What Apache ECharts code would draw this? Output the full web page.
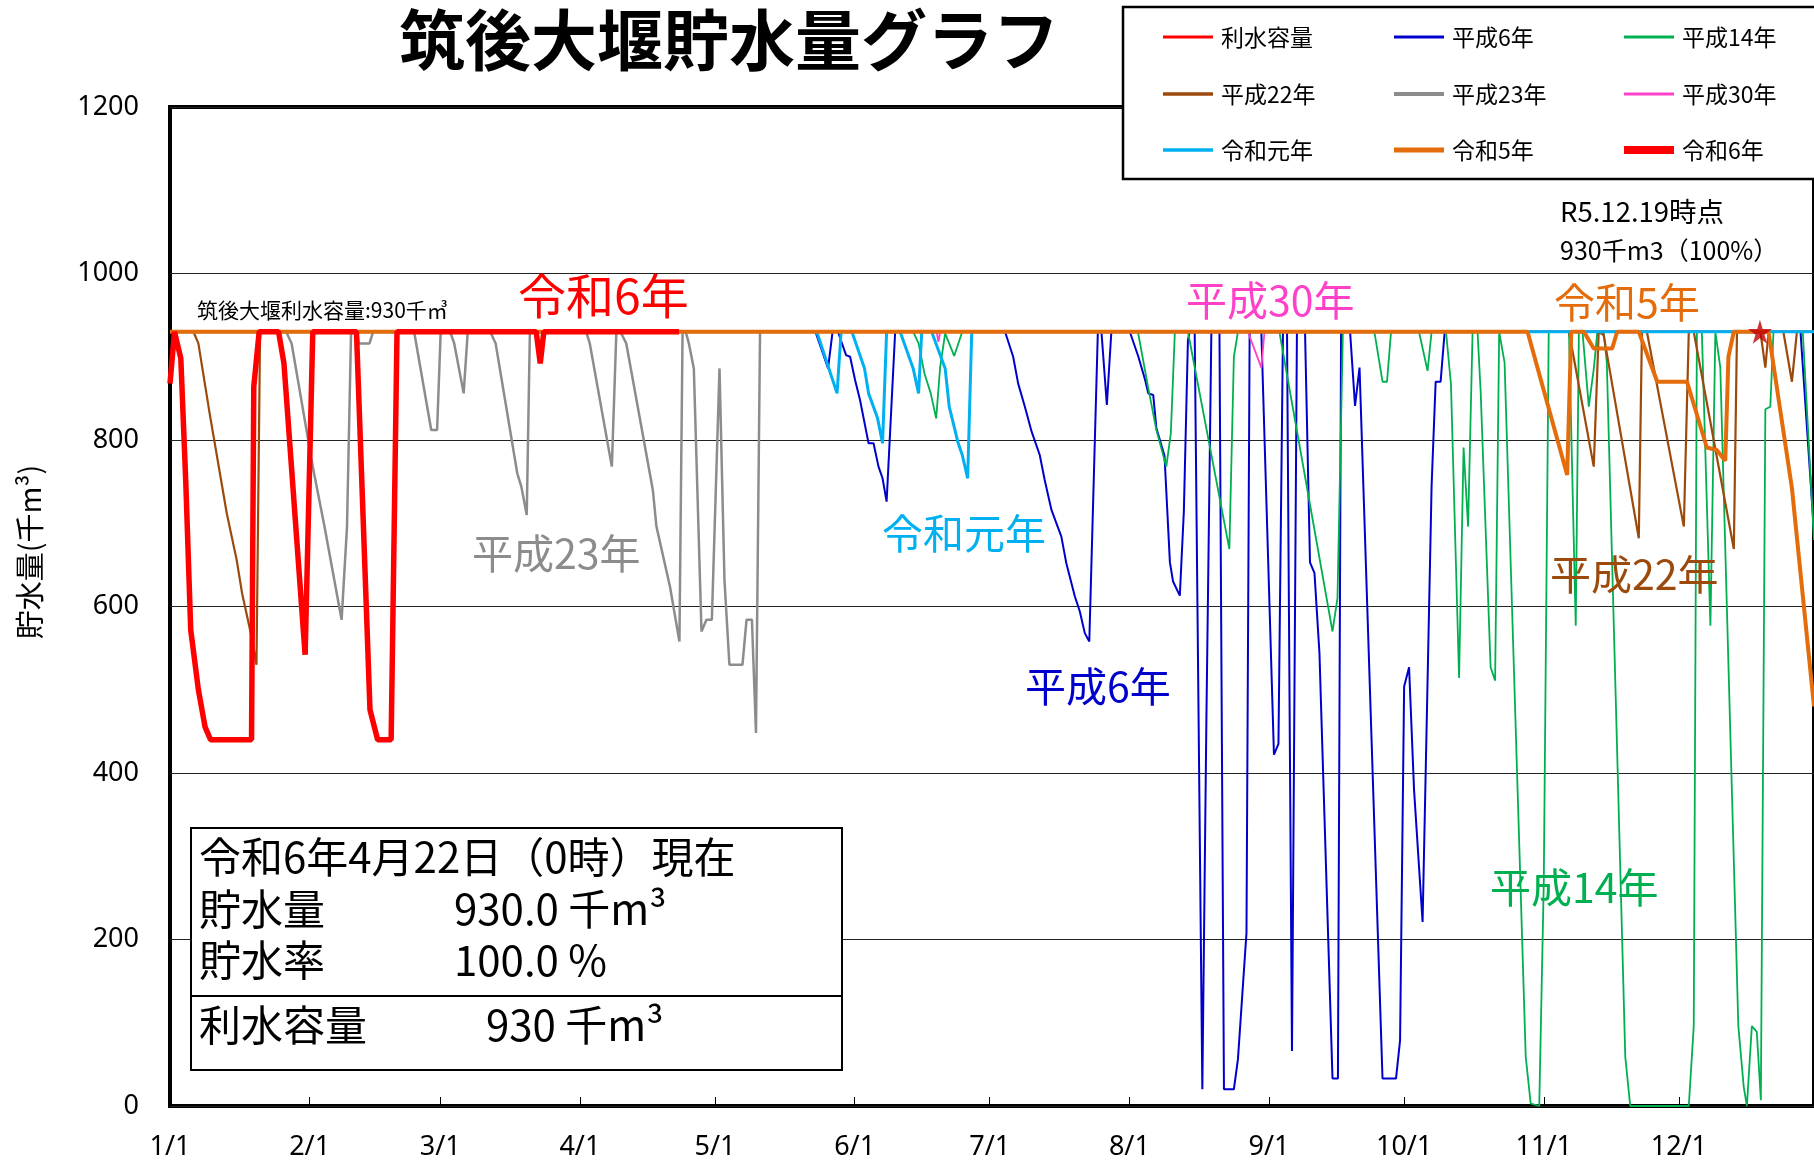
<!DOCTYPE html>
<html><head><meta charset="utf-8">
<script src="https://cdn.jsdelivr.net/npm/echarts@6/dist/echarts.min.js"></script>
<style>html,body{margin:0;padding:0;background:#fff;overflow:hidden}#c{width:1814px;height:1166px}</style>
</head><body><div id="c"></div>
<script>
// ---- axis data ----
const monthStarts = [0,31,60,91,121,152,182,213,244,274,305,335];
const monthLabels = ['1/1','2/1','3/1','4/1','5/1','6/1','7/1','8/1','9/1','10/1','11/1','12/1'];
const yMin = 0, yMax = 1200, yStep = 200;

// ---- series data: [day of year (0 = 1/1), storage 千m3] ----
const capacity = [[0,930],[365,930]];
const h6 = [[0,930],[143.3,930],[146.1,886],[147.1,930],[148.3,930],[150.1,902],[151,900],[152.1,872],[153.2,848],[155.1,796],[156.2,796],[157.3,768],[158.2,754],[159.1,726],[161,930],[185.4,930],[187.2,900],[188.3,868],[189.8,840],[191.3,810],[193.1,782],[194.2,752],[195.7,716],[197.9,684],[199,652],[200.9,612],[202,594],[203.1,568],[204.1,558],[206,930],[206.8,930],[208,842],[209,930],[213.1,930],[215,900],[216.5,872],[217.2,856],[218.3,854],[219,814],[220.8,781],[222,653],[222.7,630],[224.2,613],[225.1,715],[226,920],[226.4,930],[227.5,930],[229.2,20],[230.1,465],[231.2,930],[233,930],[234,20],[236.2,20],[237.1,56],[239,208],[239.7,930],[242.3,930],[245.1,422],[246.1,435],[247.1,930],[248,930],[249.1,66],[250.2,930],[252,930],[253.1,653],[254.1,640],[255.2,544],[258.1,33],[259.3,33],[260,930],[262,930],[263.1,841],[264.1,887],[269.2,33],[272.2,33],[273.1,79],[274,504],[275.1,527],[276.2,380],[278.1,221],[280.1,745],[281,870],[282.1,870],[283,930],[362,930],[365,690]];
const h14 = [[0,930],[165,930],[166.2,916],[167.5,880],[168.9,856],[170.1,826],[171,888],[172.1,928],[174.1,901],[175.9,930],[214.9,930],[217.1,865],[219,812],[221.2,768],[222.2,808],[223.1,930],[226,930],[235.2,669],[236.2,900],[237.1,930],[246.3,930],[258.1,570],[259.2,610],[260.4,930],[267.4,930],[269.2,870],[270.2,870],[271.1,930],[277.3,930],[279.2,883],[280.1,930],[283.3,930],[284.4,867],[286.2,514],[287.2,791],[288.2,696],[289.2,930],[290.3,930],[291,857],[293.2,527],[294.2,511],[295.1,930],[295.4,930],[296.3,893],[301,59],[302.1,3],[304,0],[305,267],[306.1,930],[310.6,930],[312.1,577],[312.8,930],[313.6,930],[315,840],[316.1,885],[316.9,930],[318.3,930],[319,893],[323.1,59],[324.2,0],[337.2,0],[338.3,96],[339,930],[340.1,930],[342,577],[343.1,930],[343.4,930],[344.2,887],[348.2,96],[349.4,23],[350.1,0],[351.2,96],[352.3,89],[353.2,7],[354.2,837],[355.3,840],[356,930],[362.5,930],[365,680]];
const h22 = [[0,930],[5.2,930],[6.3,916],[8.8,832],[12.6,712],[14.8,656],[16,616],[18.1,564],[19.2,530],[20,930],[310.6,930],[316.1,768],[317.2,930],[318.3,926],[326.1,682],[326.8,930],[327.9,930],[336.1,696],[337.2,930],[338.3,930],[347.2,669],[347.9,930],[353.1,930],[354.2,887],[354.9,930],[358.2,930],[360.1,870],[361.2,930],[365,930]];
const h23 = [[0,930],[25.8,930],[27,916],[31.7,768],[34.3,696],[38.1,584],[39.3,696],[40.2,930],[41.5,930],[41.9,916],[44.3,916],[45.1,930],[54.2,930],[58,812],[59.3,812],[60.1,930],[62.2,930],[63.1,916],[65.2,856],[66.1,930],[71.1,930],[72.3,916],[77.1,760],[78,744],[79.2,710],[79.9,930],[92.4,930],[93.2,916],[98.1,768],[99.1,930],[100,930],[101.3,916],[107.2,740],[108,696],[111,624],[113.1,558],[113.8,930],[114.5,930],[115.2,916],[116.3,886],[118,570],[119.1,584],[120.3,584],[122,886],[123.1,632],[124.2,530],[127.1,530],[128,584],[129.2,584],[130.1,448],[131,930],[365,930]];
const h30 = [[0,930],[170.2,930],[170.6,918],[171,930],[239.3,930],[242.3,887],[243,930],[365,930]];
const r1 = [[0,930],[143.6,930],[148.1,856],[149,930],[151.4,930],[154.2,886],[155.1,856],[157.1,826],[158.2,796],[159.1,930],[162.1,930],[165,886],[166.2,856],[166.9,930],[169.1,930],[172.1,886],[173,840],[175,796],[175.9,782],[177.1,754],[178,930],[365,930]];
const r5 = [[0,930],[301.4,930],[310.2,758],[311.1,930],[313.9,930],[316.1,910],[320.2,910],[321.3,930],[326.1,930],[330.2,870],[336.8,870],[341.2,791],[343.4,788],[345.3,775],[346,900],[347.2,930],[354.9,930],[360.1,742],[365,480]];
const r6 = [[0,868],[1,930],[2.4,898],[3.5,750],[4.6,572],[6.3,500],[7.8,455],[9,440],[18.1,440],[18.6,864],[19.8,930],[24.1,930],[25.3,892],[30,542],[31.7,930],[41.4,930],[44.4,476],[46.1,440],[49.1,440],[50.4,930],[81.3,930],[82.2,892],[83,930],[113,930]];
const markStar = [[353,930]];

const CJK = '"Noto Sans CJK JP", "Noto Sans", sans-serif';
const NUM = '"Noto Sans", sans-serif';

function line(name, data, color, width) {
  return {name, type:'line', data, symbol:'none', showSymbol:false, lineStyle:{color, width}, itemStyle:{color}, animation:false, silent:true};
}
function leg(left, cy, name, thick) {
  return {left, top:cy - 10.5, orient:'horizontal', padding:0, icon:'rect', itemWidth:50, itemHeight:thick, data:[name], selectedMode:false,
    textStyle:{fontSize:23, fontFamily:CJK, color:'#000', padding:[0,0,0,3]}, z:20};
}
function txt(x, y, text, size, color, align, weight) {
  return {type:'text', x, y, z:30, style:{text, font: (weight?weight+' ':'')+size+'px '+CJK, fill:color, textAlign:align||'left', textVerticalAlign:'middle', align:align||'left', verticalAlign:'middle'}};
}
const legendCols = [1163, 1394, 1624];
const legendRows = [36, 93, 149];

const chart = echarts.init(document.getElementById('c'), null, {renderer:'canvas'});
chart.setOption({
  animation:false,
  backgroundColor:'#fff',
  grid:{left:170, right:-1, top:107, bottom:60, show:true, borderColor:'#000', borderWidth:4, backgroundColor:'transparent'},
  xAxis:{type:'value', min:0, max:365,
    axisLine:{show:false},
    axisTick:{show:true, inside:true, length:9, lineStyle:{color:'#000', width:1}, customValues:monthStarts},
    axisLabel:{customValues:monthStarts, fontSize:27, fontFamily:NUM, color:'#000', margin:28,
      formatter:(v)=>{const i=monthStarts.indexOf(Math.round(v)); return i>=0?monthLabels[i]:'';}},
    splitLine:{show:false}},
  yAxis:{type:'value', min:yMin, max:yMax, interval:yStep,
    axisLine:{show:false}, axisTick:{show:false},
    axisLabel:{fontSize:27, fontFamily:NUM, color:'#000', margin:31, formatter:(v)=>String(v)},
    splitLine:{show:true, lineStyle:{color:'#222', width:1}}},
  legend:[
    leg(legendCols[0], legendRows[0], '利水容量', 3),
    leg(legendCols[0], legendRows[1], '平成22年', 3.5),
    leg(legendCols[0], legendRows[2], '令和元年', 3.5),
    leg(legendCols[1], legendRows[0], '平成6年', 3),
    leg(legendCols[1], legendRows[1], '平成23年', 4),
    leg(legendCols[1], legendRows[2], '令和5年', 5),
    leg(legendCols[2], legendRows[0], '平成14年', 3),
    leg(legendCols[2], legendRows[1], '平成30年', 3),
    leg(legendCols[2], legendRows[2], '令和6年', 8)
  ],
  series:[
    line('利水容量', capacity, '#FF0000', 2),
    line('平成6年', h6, '#0000CC', 2),
    line('平成14年', h14, '#00B050', 1.8),
    line('平成22年', h22, '#9C4A0C', 2.2),
    line('平成23年', h23, '#8C8C8C', 2.5),
    line('平成30年', h30, '#FF40C8', 1.8),
    line('令和元年', r1, '#00B0F0', 3),
    line('令和5年', r5, '#E46C0A', 4),
    line('令和6年', r6, '#FF0000', 5.5),
    {name:'star', type:'scatter', data:markStar, symbol:'path://M50,0 L61,35 L98,35 L68,57 L79,91 L50,70 L21,91 L32,57 L2,35 L39,35 Z', symbolSize:24, itemStyle:{color:'#C00000'}, z:5, silent:true, animation:false}
  ],
  graphic:[
    {type:'rect', z:10, shape:{x:1123, y:7, width:720, height:172}, style:{fill:'#fff', stroke:'#000', lineWidth:2.5}},
    {type:'rect', z:10, shape:{x:191, y:828, width:651, height:242}, style:{fill:'#fff', stroke:'#000', lineWidth:2}},
    {type:'line', z:11, shape:{x1:191, y1:996, x2:842, y2:996}, style:{stroke:'#000', lineWidth:2}},
    txt(729, 40, '筑後大堰貯水量グラフ', 66, '#000', 'center', 'bold'),
    {type:'text', x:30, y:552, rotation:Math.PI/2, z:30, style:{text:'貯水量(千m³)', font:'29px '+CJK, fill:'#000', textAlign:'center', textVerticalAlign:'middle', align:'center', verticalAlign:'middle'}},
    txt(197, 310, '筑後大堰利水容量:930千㎥', 21, '#000'),
    txt(518, 296, '令和6年', 48, '#FF0000'),
    txt(472, 553, '平成23年', 41, '#8C8C8C'),
    txt(882, 533, '令和元年', 41, '#00B0F0'),
    txt(1025, 686, '平成6年', 41, '#0000CC'),
    txt(1186, 300, '平成30年', 41, '#FF40C8'),
    txt(1554, 302, '令和5年', 41, '#E46C0A'),
    txt(1550, 574, '平成22年', 41, '#9C4A0C'),
    txt(1490, 887, '平成14年', 41, '#00B050'),
    txt(1560, 212, 'R5.12.19時点', 27.5, '#000'),
    txt(1560, 250, '930千m3（100%）', 25, '#000'),
    txt(199, 857, '令和6年4月22日（0時）現在', 42, '#000'),
    txt(199, 909, '貯水量', 42, '#000'),
    txt(454, 909, '930.0 千m³', 42, '#000'),
    txt(199, 960, '貯水率', 42, '#000'),
    txt(454, 960, '100.0 %', 42, '#000'),
    txt(199, 1025, '利水容量', 42, '#000'),
    txt(486, 1025, '930 千m³', 42, '#000')
  ]
});
</script></body></html>
